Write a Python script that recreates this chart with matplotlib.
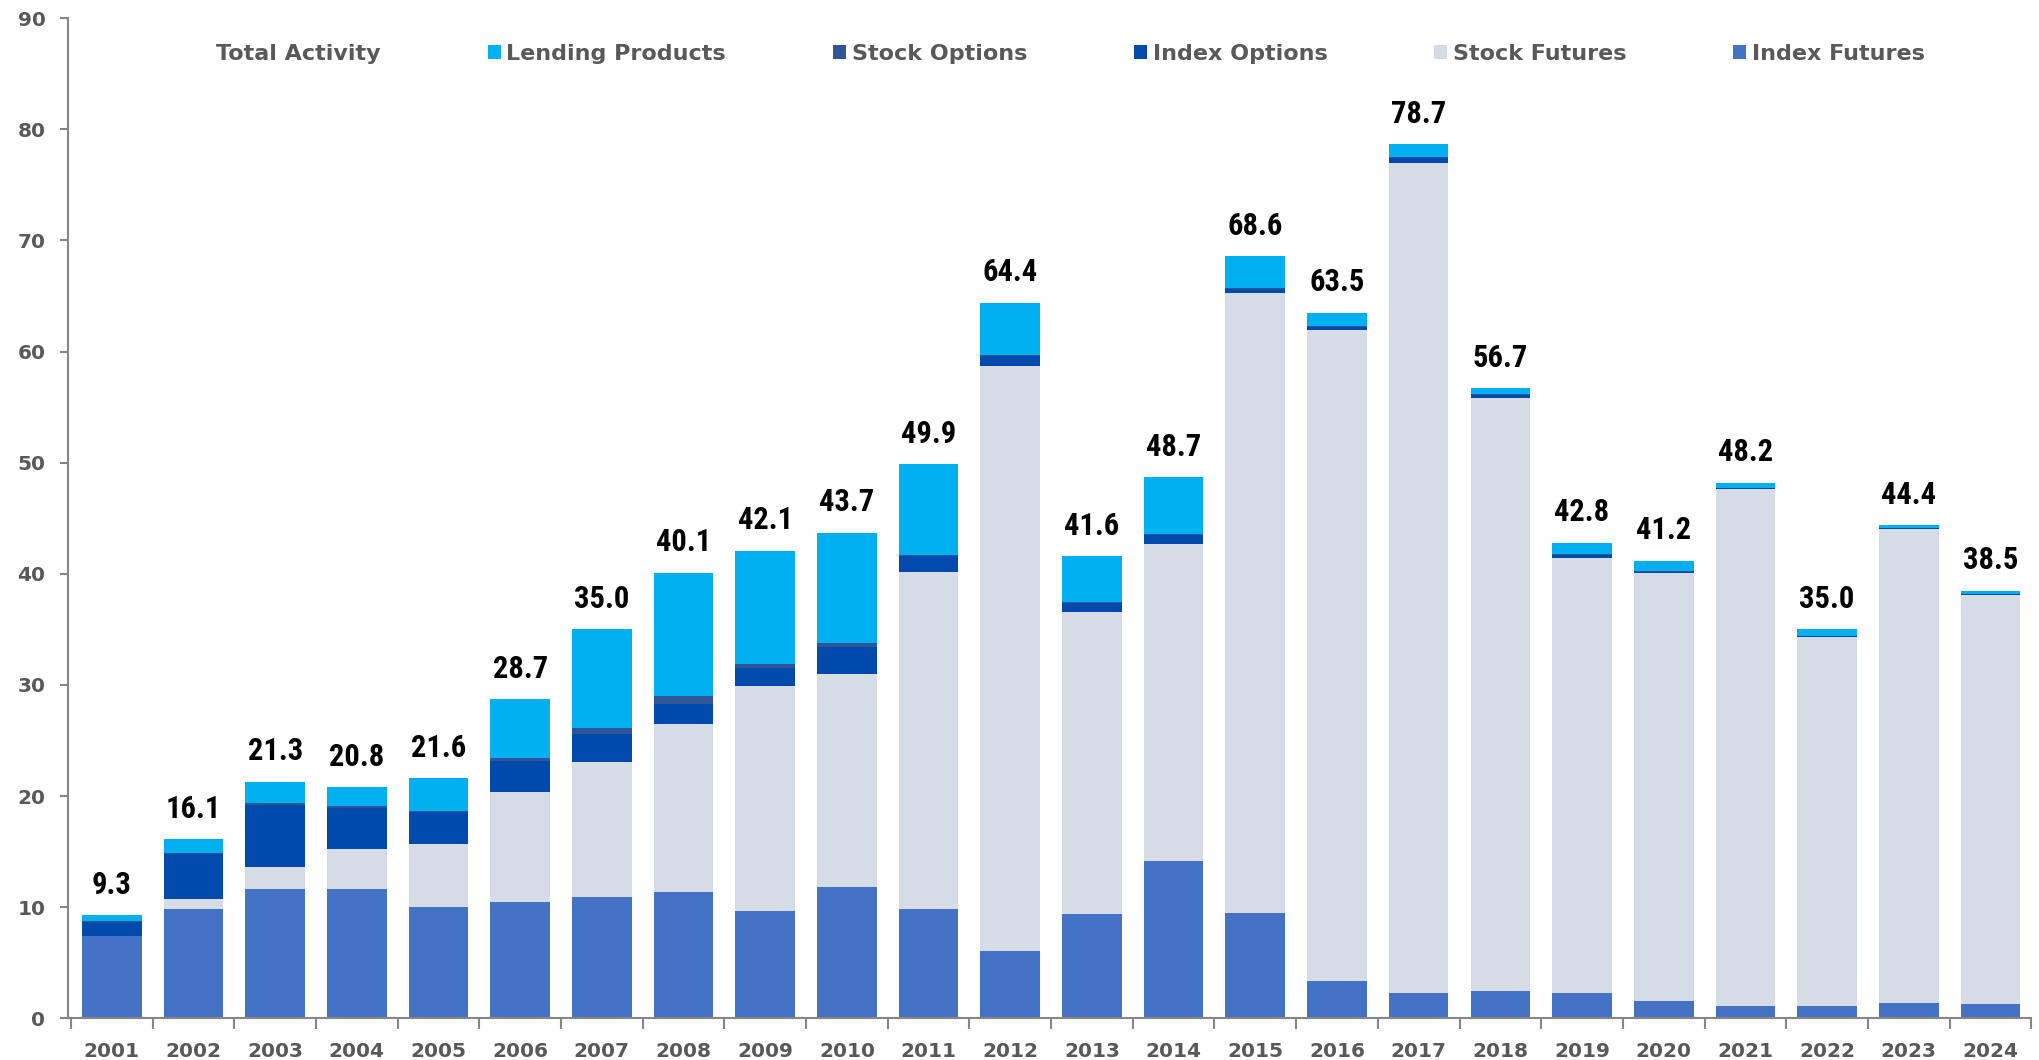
import numpy as np
import matplotlib
matplotlib.use("Agg")
from matplotlib import pyplot as plt
from matplotlib.patches import Patch
from matplotlib import font_manager

years = [str(y) for y in range(2001, 2025)]

index_futures = [7.4, 9.8, 11.6, 11.6, 10.0, 10.5, 10.9, 11.4, 9.7, 11.8, 9.8, 6.1,
                 9.4, 14.2, 9.5, 3.4, 2.3, 2.5, 2.3, 1.6, 1.1, 1.1, 1.4, 1.3]
stock_futures = [0.0, 0.9, 2.0, 3.6, 5.7, 9.9, 12.2, 15.1, 20.2, 19.2, 30.4, 52.6,
                 27.2, 28.5, 55.8, 58.5, 74.7, 53.3, 39.1, 38.5, 46.5, 33.2, 42.6, 36.8]
index_options = [1.3, 4.1, 5.6, 3.7, 2.9, 2.8, 2.5, 1.8, 1.6, 2.4, 1.4, 0.9,
                 0.8, 0.8, 0.3, 0.3, 0.4, 0.3, 0.3, 0.1, 0.1, 0.1, 0.1, 0.1]
stock_options = [0.1, 0.1, 0.2, 0.2, 0.1, 0.2, 0.5, 0.7, 0.4, 0.4, 0.1, 0.1,
                 0.1, 0.1, 0.1, 0.1, 0.1, 0.1, 0.1, 0.1, 0.0, 0.0, 0.0, 0.0]
lending_products = [0.5, 1.2, 1.9, 1.7, 2.9, 5.3, 8.9, 11.1, 10.2, 9.9, 8.2, 4.7,
                    4.1, 5.1, 2.9, 1.2, 1.2, 0.5, 1.0, 0.9, 0.5, 0.6, 0.3, 0.3]
total_activity = [9.3, 16.1, 21.3, 20.8, 21.6, 28.7, 35.0, 40.1, 42.1, 43.7, 49.9, 64.4,
                  41.6, 48.7, 68.6, 63.5, 78.7, 56.7, 42.8, 41.2, 48.2, 35.0, 44.4, 38.5]

series = [
    ("Index Futures", index_futures, "#4472C4"),
    ("Stock Futures", stock_futures, "#D6DCE5"),
    ("Index Options", index_options, "#004AAD"),
    ("Stock Options", stock_options, "#2F5597"),
    ("Lending Products", lending_products, "#00B0F0"),
]

# pick a narrow font for the totals if one is installed
installed = {f.name for f in font_manager.fontManager.ttflist}
label_font, label_size = "DejaVu Sans", 17
for name, size in [("Liberation Sans Narrow", 23), ("DejaVu Sans Condensed", 20),
                   ("Roboto Condensed", 22), ("Liberation Sans", 20)]:
    if name in installed:
        label_font, label_size = name, size
        break

grey = "#595959"
fig = plt.figure(figsize=(20.39, 10.60), dpi=100)
ax = fig.add_axes([0.0332, 0.0393, 0.963, 0.9435])

x = np.arange(len(years))
bottom = np.zeros(len(years))
for name, vals, col in series:
    ax.bar(x, vals, width=0.73, bottom=bottom, color=col, label=name, linewidth=0)
    bottom += np.array(vals)

# total labels
for xi, t in zip(x, total_activity):
    ax.annotate(f"{t:.1f}", (xi, t), xytext=(0, 11), textcoords="offset points",
                ha="center", va="bottom", fontsize=label_size, fontweight="bold",
                family=label_font, color="black")

ax.set_xlim(-0.54, 23.45)
ax.set_ylim(0, 90)
ax.set_yticks(range(0, 91, 10))
ax.set_xticks(x)
ax.set_xticklabels(years)
ax.set_xticks(np.arange(-0.5, 24, 1), minor=True)

for s in ["top", "right"]:
    ax.spines[s].set_visible(False)
for s in ["left", "bottom"]:
    ax.spines[s].set_color("#868686")
    ax.spines[s].set_linewidth(1.5)

ax.tick_params(axis="y", length=6, width=1.5, color="#868686", pad=10,
               labelsize=14.5, labelcolor=grey)
ax.tick_params(axis="x", which="major", length=0, pad=17, labelsize=14.5, labelcolor=grey)
ax.tick_params(axis="x", which="minor", length=8, width=1.5, color="#868686")
for lab in ax.get_xticklabels() + ax.get_yticklabels():
    lab.set_fontweight("bold")

# legend (Total Activity has no swatch)
handles = [Patch(facecolor="none", edgecolor="none", label="Total Activity"),
           Patch(facecolor="#00B0F0", label="Lending Products"),
           Patch(facecolor="#2F5597", label="Stock Options"),
           Patch(facecolor="#004AAD", label="Index Options"),
           Patch(facecolor="#D6DCE5", label="Stock Futures"),
           Patch(facecolor="#4472C4", label="Index Futures")]
leg = fig.legend(handles=handles, loc="center left", bbox_to_anchor=(0.0968, 0.949),
                 ncol=6, frameon=False, borderpad=0, borderaxespad=0,
                 handlelength=0.6, handleheight=0.6, handletextpad=0.25,
                 columnspacing=4.8, prop={"size": 16, "weight": "bold"})
for t in leg.get_texts():
    t.set_color(grey)

plt.savefig("out.png", dpi=100)
